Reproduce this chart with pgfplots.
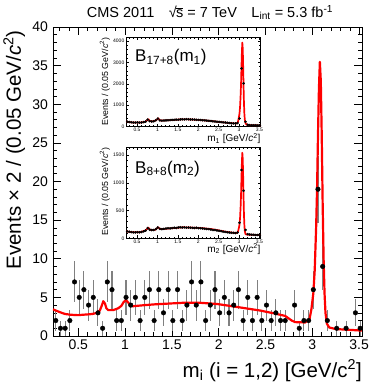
\documentclass[border=0pt]{standalone}
\usepackage{fontspec}
\setmainfont{Liberation Sans}
\usepackage{pgfplots}
\pgfplotsset{compat=1.18}
\definecolor{ebgray}{RGB}{128,128,128}
\begin{document}
\begin{tikzpicture}[x=1pt,y=1pt]
\useasboundingbox (-53pt,-50pt) rectangle (333pt,336pt);
% ---------------- main axis ----------------
\begin{axis}[at={(0pt,0pt)}, anchor=south west, scale only axis,
 width=309pt, height=309pt,
 xmin=0.23, xmax=3.53, ymin=0, ymax=40,
 xtick={0.5,1,1.5,2,2.5,3,3.5}, xticklabels={0.5,1,1.5,2,2.5,3,3.5},
 minor xtick={0.3,0.4,0.6,0.7,0.8,0.9,1.1,1.2,1.3,1.4,1.6,1.7,1.8,1.9,2.1,2.2,2.3,2.4,2.6,2.7,2.8,2.9,3.1,3.2,3.3,3.4},
 ytick={0,5,10,15,20,25,30,35,40},
 minor ytick={1,2,3,4,6,7,8,9,11,12,13,14,16,17,18,19,21,22,23,24,26,27,28,29,31,32,33,34,36,37,38,39},
 tick align=inside, major tick length=8pt, minor tick length=4pt,
 xtick pos=both, ytick pos=both, xticklabel pos=bottom, yticklabel pos=left,
 tick style={black, line width=0.6pt},
 axis line style={line width=0.8pt},
 /pgf/number format/assume math mode=true,
 xticklabel style={font=\fontsize{14}{14}\selectfont},
 yticklabel style={font=\fontsize{14}{14}\selectfont, xshift=-1.5pt},
]
\addplot[only marks, mark=*, mark size=2.3pt, black,
 error bars/.cd, y dir=both, y explicit, error mark=none,
 error bar style={ebgray, line width=1.1pt}]
coordinates {
(0.26,2) +- (0,1.414)
(0.31,1) +- (0,1)
(0.36,1) +- (0,1)
(0.41,2) +- (0,1.414)
(0.46,7) +- (0,2.646)
(0.51,5) +- (0,2.236)
(0.56,6) +- (0,2.449)
(0.61,4) +- (0,2)
(0.66,5) +- (0,2.236)
(0.71,3) +- (0,1.732)
(0.76,1) +- (0,1)
(0.81,7) +- (0,2.646)
(0.86,6) +- (0,2.449)
(0.91,2) +- (0,1.414)
(0.96,2) +- (0,1.414)
(1.01,5) +- (0,2.236)
(1.06,4) +- (0,2)
(1.11,5) +- (0,2.236)
(1.16,2) +- (0,1.414)
(1.21,5) +- (0,2.236)
(1.26,6) +- (0,2.449)
(1.31,2) +- (0,1.414)
(1.36,6) +- (0,2.449)
(1.41,3) +- (0,1.732)
(1.46,6) +- (0,2.449)
(1.51,2) +- (0,1.414)
(1.56,6) +- (0,2.449)
(1.61,2) +- (0,1.414)
(1.66,4) +- (0,2)
(1.71,7) +- (0,2.646)
(1.76,4) +- (0,2)
(1.81,7) +- (0,2.646)
(1.86,2) +- (0,1.414)
(1.91,4) +- (0,2)
(1.96,6) +- (0,2.449)
(2.01,3) +- (0,1.732)
(2.06,5) +- (0,2.236)
(2.11,3) +- (0,1.732)
(2.16,4) +- (0,2)
(2.21,6) +- (0,2.449)
(2.26,2) +- (0,1.414)
(2.31,5) +- (0,2.236)
(2.36,2) +- (0,1.414)
(2.41,5) +- (0,2.236)
(2.46,2) +- (0,1.414)
(2.51,4) +- (0,2)
(2.56,2) +- (0,1.414)
(2.61,3) +- (0,1.732)
(2.66,2) +- (0,1.414)
(2.71,2) +- (0,1.414)
(2.81,4) +- (0,2)
(2.86,1) +- (0,1)
(2.91,2) +- (0,1.414)
(2.96,2) +- (0,1.414)
(3.01,6) +- (0,2.449)
(3.06,19) +- (0,4.359)
(3.11,9) +- (0,3)
(3.16,2) +- (0,1.414)
(3.26,1) +- (0,1)
(3.36,1) +- (0,1)
(3.46,3) +- (0,1.732)
(3.51,1) +- (0,1)
};
\addplot[red, line width=2.2pt, line join=round] coordinates {
(0.23,3.45) (0.30,3.1) (0.358,2.85) (0.42,2.75) (0.497,2.7) (0.55,2.75) (0.604,2.8) (0.65,2.85) (0.70,3.0)
(0.73,3.3) (0.75,3.9) (0.767,4.5) (0.785,4.2) (0.80,3.6) (0.82,3.35) (0.874,3.35) (0.928,3.6) (0.96,3.9)
(0.985,4.4) (1.01,4.65) (1.035,4.3) (1.06,3.95) (1.08,3.85) (1.213,4.0) (1.32,4.1) (1.62,4.3) (1.8,4.3)
(1.979,4.15) (2.2,3.75) (2.441,3.3) (2.602,2.9) (2.709,2.6) (2.744,2.3) (2.78,2.0) (2.815,1.8) (2.922,1.75)
(2.97,2.2) (2.99,3.5) (3.01,5.5) (3.025,8.5) (3.04,14) (3.05,19) (3.06,26) (3.07,32) (3.08,35.5) (3.09,33)
(3.10,26) (3.11,17) (3.12,10) (3.13,5.5) (3.14,3.0) (3.155,1.6) (3.18,1.1) (3.25,0.9) (3.53,0.7)
};
\end{axis}
% ---------------- inset 1 ----------------
\begin{axis}[at={(73pt,209.3pt)}, anchor=south west, scale only axis,
 width=134.7pt, height=89.4pt,
 xmin=0.23, xmax=3.53, ymin=0, ymax=4170,
 xtick={0.5,1,1.5,2,2.5,3,3.5}, xticklabels={0.5,1,1.5,2,2.5,3,3.5},
 minor xtick={0.3,0.4,0.6,0.7,0.8,0.9,1.1,1.2,1.3,1.4,1.6,1.7,1.8,1.9,2.1,2.2,2.3,2.4,2.6,2.7,2.8,2.9,3.1,3.2,3.3,3.4},
 ytick={0,1000,2000,3000,4000}, yticklabels={0,1000,2000,3000,4000},
 minor ytick={200,400,600,800,1200,1400,1600,1800,2200,2400,2600,2800,3200,3400,3600,3800,4000},
 tick align=inside, major tick length=3pt, minor tick length=1.5pt,
 xtick pos=both, ytick pos=both, xticklabel pos=bottom, yticklabel pos=left,
 tick style={black, line width=0.4pt},
 axis line style={line width=0.6pt},
 axis background/.style={fill=white},
 xticklabel style={font=\fontsize{5}{5}\selectfont, inner sep=1.2pt},
 yticklabel style={font=\fontsize{5}{5}\selectfont, inner sep=1.5pt},
]
\addplot[only marks, mark=*, mark size=1.1pt, black] coordinates {
(0.26,235) (0.31,215) (0.36,205) (0.41,195) (0.46,190) (0.51,200) (0.56,190) (0.61,200) (0.66,215) (0.71,240)
(0.76,330) (0.81,260) (0.86,240) (0.91,255) (0.96,300) (1.01,380) (1.06,290) (1.11,280) (1.16,290) (1.21,295)
(1.26,300) (1.31,310) (1.36,315) (1.41,320) (1.46,330) (1.51,325) (1.56,340) (1.61,345) (1.66,340) (1.71,350)
(1.76,345) (1.81,340) (1.86,335) (1.91,330) (1.96,320) (2.01,315) (2.06,310) (2.11,300) (2.16,295) (2.21,285)
(2.26,275) (2.31,265) (2.36,250) (2.41,240) (2.46,235) (2.51,225) (2.56,215) (2.61,205) (2.66,195) (2.71,180)
(2.76,170) (2.81,160) (2.86,155) (2.91,150) (2.96,170) (3.01,380) (3.06,2720) (3.11,2020) (3.16,230) (3.21,90)
(3.26,75) (3.31,70) (3.36,68) (3.41,65) (3.46,62) (3.51,60)
};
\addplot[red, line width=1.7pt, line join=round] coordinates {
(0.23,240) (0.3,215) (0.4,195) (0.5,190) (0.6,195) (0.7,230) (0.75,300) (0.78,345) (0.81,270) (0.85,245)
(0.9,255) (0.97,300) (1.02,390) (1.06,300) (1.1,285) (1.3,305) (1.6,343) (1.8,340) (2.04,312) (2.3,270)
(2.45,234) (2.7,185) (2.86,156) (2.94,152) (2.97,200) (2.99,380) (3.01,600) (3.025,940) (3.04,1530) (3.05,2100)
(3.06,2860) (3.07,3530) (3.08,3925) (3.09,3650) (3.10,2860) (3.11,1880) (3.12,1100) (3.13,610) (3.14,340)
(3.155,180) (3.18,100) (3.25,70) (3.53,60)
};
\end{axis}
% ---------------- inset 2 ----------------
\begin{axis}[at={(73pt,97.7pt)}, anchor=south west, scale only axis,
 width=134.7pt, height=91pt,
 xmin=0.23, xmax=3.53, ymin=0, ymax=1640,
 xtick={0.5,1,1.5,2,2.5,3,3.5}, xticklabels={0.5,1,1.5,2,2.5,3,3.5},
 minor xtick={0.3,0.4,0.6,0.7,0.8,0.9,1.1,1.2,1.3,1.4,1.6,1.7,1.8,1.9,2.1,2.2,2.3,2.4,2.6,2.7,2.8,2.9,3.1,3.2,3.3,3.4},
 ytick={0,500,1000,1500}, yticklabels={0,500,1000,1500},
 minor ytick={100,200,300,400,600,700,800,900,1100,1200,1300,1400,1600},
 tick align=inside, major tick length=3pt, minor tick length=1.5pt,
 xtick pos=both, ytick pos=both, xticklabel pos=bottom, yticklabel pos=left,
 tick style={black, line width=0.4pt},
 axis line style={line width=0.6pt},
 axis background/.style={fill=white},
 xticklabel style={font=\fontsize{5}{5}\selectfont, inner sep=1.2pt},
 yticklabel style={font=\fontsize{5}{5}\selectfont, inner sep=1.5pt},
]
\addplot[only marks, mark=*, mark size=1.1pt, black] coordinates {
(0.26,125) (0.31,118) (0.36,112) (0.41,108) (0.46,105) (0.51,110) (0.56,108) (0.61,112) (0.66,125) (0.71,140)
(0.76,185) (0.81,155) (0.86,148) (0.91,150) (0.96,165) (1.01,195) (1.06,170) (1.11,165) (1.16,170) (1.21,175)
(1.26,180) (1.31,178) (1.36,185) (1.41,190) (1.46,185) (1.51,195) (1.56,200) (1.61,195) (1.66,198) (1.71,192)
(1.76,195) (1.81,190) (1.86,188) (1.91,185) (1.96,190) (2.01,182) (2.06,180) (2.11,178) (2.16,172) (2.21,168)
(2.26,165) (2.31,158) (2.36,150) (2.41,148) (2.46,140) (2.51,135) (2.56,128) (2.61,120) (2.66,115) (2.71,110)
(2.76,105) (2.81,100) (2.86,98) (2.91,95) (2.96,105) (3.01,280) (3.06,1230) (3.11,856) (3.16,150) (3.21,75)
(3.26,68) (3.31,65) (3.36,62) (3.41,60) (3.46,60) (3.51,58)
};
\addplot[red, line width=1.7pt, line join=round] coordinates {
(0.23,128) (0.3,118) (0.4,110) (0.57,108) (0.7,140) (0.75,170) (0.78,192) (0.81,160) (0.85,150) (0.94,152)
(0.98,175) (1.02,198) (1.06,172) (1.1,165) (1.3,178) (1.63,198) (1.8,194) (2.04,186) (2.3,168) (2.45,150)
(2.7,115) (2.86,100) (2.94,97) (2.97,110) (2.99,170) (3.01,240) (3.025,370) (3.04,600) (3.05,825) (3.06,1125)
(3.07,1390) (3.08,1542) (3.09,1435) (3.10,1125) (3.11,740) (3.12,430) (3.13,240) (3.14,135) (3.155,80)
(3.18,68) (3.25,64) (3.53,60)
};
\end{axis}
% ---------------- texts ----------------
\node[anchor=base, inner sep=0pt, font=\fontsize{14.5}{16}\selectfont] at (157pt,318.7pt)
 {CMS 2011\quad √\kern-0.05em$\overline{\mbox{s}}$ = 7 TeV\quad L\textsubscript{int} = 5.3 fb\textsuperscript{-1}};
\node[rotate=90, anchor=base east, inner sep=0pt, font=\fontsize{20.5}{22}\selectfont] at (-32pt,306pt)
 {Events × 2 / (0.05 GeV/\textit{c}\textsuperscript{2})};
\node[anchor=base east, inner sep=0pt, font=\fontsize{20.5}{22}\selectfont] at (309pt,-41pt)
 {m\textsubscript{i} (i = 1,2) [GeV/c\textsuperscript{2}]};
% inset texts
\node[anchor=base west, inner sep=0pt, font=\fontsize{17}{19}\selectfont] at (82pt,274.3pt)
 {B\textsubscript{17+8}(m\textsubscript{1})};
\node[anchor=base west, inner sep=0pt, font=\fontsize{17}{19}\selectfont] at (82pt,162.7pt)
 {B\textsubscript{8+8}(m\textsubscript{2})};
\node[rotate=90, anchor=base east, inner sep=0pt, font=\fontsize{8.8}{9}\selectfont] at (55pt,298.5pt)
 {Events / (0.05 GeV/\textit{c}\textsuperscript{2})};
\node[rotate=90, anchor=base east, inner sep=0pt, font=\fontsize{8.8}{9}\selectfont] at (55pt,188.5pt)
 {Events / (0.05 GeV/\textit{c}\textsuperscript{2})};
\node[anchor=base east, inner sep=0pt, font=\fontsize{10}{11}\selectfont] at (207.7pt,194.3pt)
 {m\textsubscript{1} [GeV/\textit{c}\textsuperscript{2}]};
\node[anchor=base east, inner sep=0pt, font=\fontsize{10}{11}\selectfont] at (207.7pt,83.6pt)
 {m\textsubscript{2} [GeV/\textit{c}\textsuperscript{2}]};
\end{tikzpicture}
\end{document}
